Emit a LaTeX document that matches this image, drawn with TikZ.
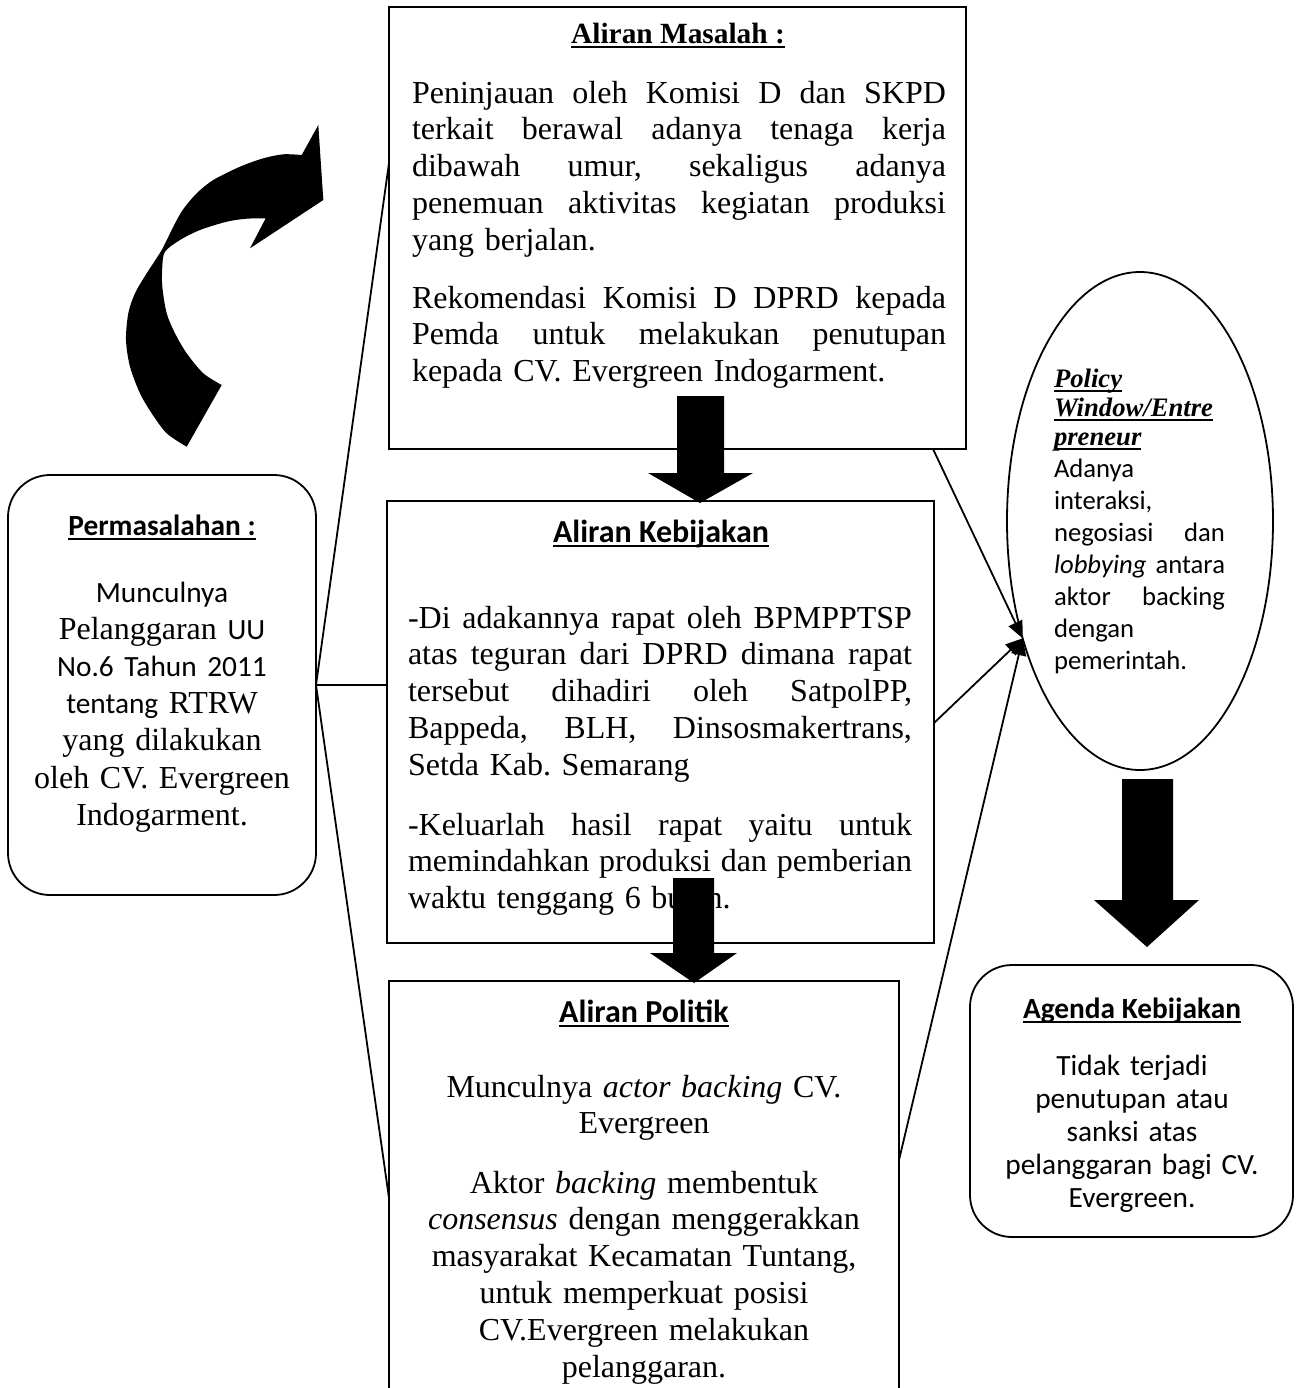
\documentclass[tikz,border=0pt]{standalone}
\usepackage{fontspec}
\setmainfont{Liberation Serif}
\newfontfamily\calfont{Carlito}
\usetikzlibrary{shapes.geometric,arrows.meta,calc}
\newcommand\myul[1]{\setbox0\hbox{#1}\leavevmode\rlap{\rule[-2.6pt]{\wd0}{0.9pt}}\box0}
\newcommand\jline[2]{\leavevmode\hbox to #1{\frenchspacing\spaceskip=0.25em plus 1fil\relax #2}}
\begin{document}
\frenchspacing
\begin{tikzpicture}[x=0.5pt,y=-0.5pt,line width=0.9pt,
  box/.style={draw,rectangle,anchor=north west,inner sep=0,outer sep=0},
  rbox/.style={box,rounded corners=21pt},
  tms/.style={font=\fontsize{16}{18.4}\selectfont},
  para/.style={anchor=base west,inner sep=0,outer sep=0,align=left},
  cpara/.style={anchor=base,inner sep=0,outer sep=0,align=center},
  ttl/.style={anchor=base,inner sep=0,outer sep=0},
  link/.style={line width=0.9pt},
  tolink/.style={link,-{Triangle[length=8.5pt,width=7.5pt]}},
  blockarrow/.style={fill=black,draw=none}]
\useasboundingbox (0,0) rectangle (1298,1388);
\clip (0,0) rectangle (1298,1388);

% boxes
\node[box,minimum width=288.5pt,minimum height=221pt] (masalah) at (389,7) {};
\node[box,minimum width=273.5pt,minimum height=221pt] (kebijakan) at (387,501) {};
\node[box,minimum width=255pt,minimum height=215pt] (politik) at (389,981) {};
\node[rbox,minimum width=154pt,minimum height=210pt] (perm) at (8,475) {};
\node[rbox,minimum width=161.5pt,minimum height=136pt] (agenda) at (970,965) {};
\node[draw,ellipse,inner sep=0,outer sep=0,minimum width=133pt,minimum height=249pt] (ell) at (1140,521) {};

% connectors
\draw[link] (perm.east) -- ($(masalah.north west)+(0,156)$);
\draw[link] (perm.east) -- ($(kebijakan.north west)+(0,184)$);
\draw[link] (perm.east) -- ($(politik.north west)+(0,217)$);
\draw[tolink] ($(masalah.south east)+(-33,0)$) -- (ell.225.5);
\draw[tolink] ($(politik.north east)+(0,179)$) -- (ell.225.5);
\draw[tolink] ($(kebijakan.north east)+(0,222)$) -- (ell.225.5);

% Aliran Masalah
\node[ttl,font=\bfseries\fontsize{14.67}{17}\selectfont] (mtitle) at (678,43) {\myul{Aliran Masalah :}};
\node[para,tms,text width=267pt] (mp1) at (412,103) {%
\jline{267pt}{Peninjauan oleh Komisi D dan SKPD}\\
\jline{267pt}{terkait berawal adanya tenaga kerja}\\
\jline{267pt}{dibawah umur, sekaligus adanya}\\
\jline{267pt}{penemuan aktivitas kegiatan produksi}\\
yang berjalan.};
\node[para,tms,text width=267pt] (mp2) at (412,308) {%
\jline{267pt}{Rekomendasi Komisi D DPRD kepada}\\
\jline{267pt}{Pemda untuk melakukan penutupan}\\
kepada CV. Evergreen Indogarment.};

% Aliran Kebijakan
\node[ttl,font=\calfont\bfseries\fontsize{16}{19}\selectfont] (ktitle) at (661,542) {\myul{Aliran Kebijakan}};
\node[para,tms,text width=252pt] (kp1) at (408,628) {%
\jline{252pt}{-Di adakannya rapat oleh BPMPPTSP}\\
\jline{252pt}{atas teguran dari DPRD dimana rapat}\\
\jline{252pt}{tersebut dihadiri oleh SatpolPP,}\\
\jline{252pt}{Bappeda, BLH, Dinsosmakertrans,}\\
Setda Kab. Semarang};
\node[para,tms,text width=252pt] (kp2) at (408,835) {%
\jline{252pt}{-Keluarlah hasil rapat yaitu untuk}\\
\jline{252pt}{memindahkan produksi dan pemberian}\\
waktu tenggang 6 bulan.};

% Aliran Politik
\node[ttl,font=\calfont\bfseries\fontsize{16}{19}\selectfont] (ptitle) at (644,1022) {\myul{Aliran Politik}};
\node[cpara,tms,text width=245pt] (pp1) at (644,1097) {%
Munculnya \textit{actor backing} CV.\\ Evergreen};
\node[cpara,tms,text width=245pt] (pp2) at (644,1193) {%
Aktor \textit{backing} membentuk\\
\textit{consensus} dengan menggerakkan\\
masyarakat Kecamatan Tuntang,\\
untuk memperkuat posisi\\
CV.Evergreen melakukan\\
pelanggaran.};

% Permasalahan
\node[ttl,font=\calfont\bfseries\fontsize{14.67}{17}\selectfont] (pmtitle) at (162,535) {\myul{Permasalahan :}};
\node[cpara,font=\fontsize{16}{18.6}\selectfont,text width=150pt] (pmbody) at (162,602) {%
{\calfont\fontsize{14.67}{18.6}\selectfont Munculnya}\\
Pelanggaran {\calfont\fontsize{14.67}{18.6}\selectfont UU}\\
{\calfont\fontsize{14.67}{18.6}\selectfont No.6 Tahun 2011}\\
{\calfont\fontsize{14.67}{18.6}\selectfont tentang} RTRW\\
yang dilakukan\\
oleh CV. Evergreen\\
Indogarment.};

% Policy window
\node[para,font=\bfseries\itshape\fontsize{13.33}{14.5}\selectfont,text width=86pt] (pwtitle) at (1054,387) {%
\myul{Policy}\\ \myul{Window/Entre}\\ \myul{preneur}};
\node[para,font=\calfont\fontsize{13.33}{16}\selectfont,text width=86pt] (pwbody) at (1054,477) {%
Adanya\\
interaksi,\\
\jline{85.5pt}{negosiasi dan}\\
\jline{85.5pt}{\textit{lobbying} antara}\\
\jline{85.5pt}{aktor backing}\\
dengan\\
pemerintah.};

% Agenda
\node[ttl,font=\calfont\bfseries\fontsize{14.67}{17}\selectfont] (atitle) at (1132,1018) {\myul{Agenda Kebijakan}};
\node[cpara,font=\calfont\fontsize{14.67}{16.5}\selectfont,text width=155pt] (abody) at (1132,1075) {%
Tidak terjadi\\ penutupan atau\\ sanksi atas\\ pelanggaran bagi CV.\\ Evergreen.};

% block arrows
\fill[blockarrow] (677,396) -- (724,396) -- (724,473) -- (753,473) -- (700,503) -- (648,473) -- (677,473) -- cycle;
\fill[blockarrow] (673,878) -- (714,878) -- (714,953) -- (737,953) -- (694,983) -- (650,953) -- (673,953) -- cycle;
\fill[blockarrow] (1122,779) -- (1173,779) -- (1173,900) -- (1199,900) -- (1147,947) -- (1094,900) -- (1122,900) -- cycle;

% curved arrow
\fill[blockarrow] (186.7,446.7) -- plot[smooth,tension=0.5] coordinates {(186.7,446.7) (166.7,433.3) (151.7,413.3) (140,393.3) (130,366.7) (126,340) (128.3,313.3) (135,293.3) (146.7,273.3) (161.7,250) (173.3,226.7) (182.7,210) (196.7,193.3) (213.3,180) (240,166.7) (263.3,158.3) (283.3,154.3) (301.7,155)}
 -- (318.3,125) -- (323.3,200) -- (250,248.3) -- (265.7,218.3)
 -- plot[smooth,tension=0.5] coordinates {(265.7,218.3) (246.7,218.7) (226.7,221.7) (200,230) (180,240) (165,251.7) (162.3,266.7) (162.3,286.7) (166.7,313.3) (175,333.3) (186.7,353.3) (203.3,373.3) (221.7,385)}
 -- cycle;
\end{tikzpicture}
\end{document}
